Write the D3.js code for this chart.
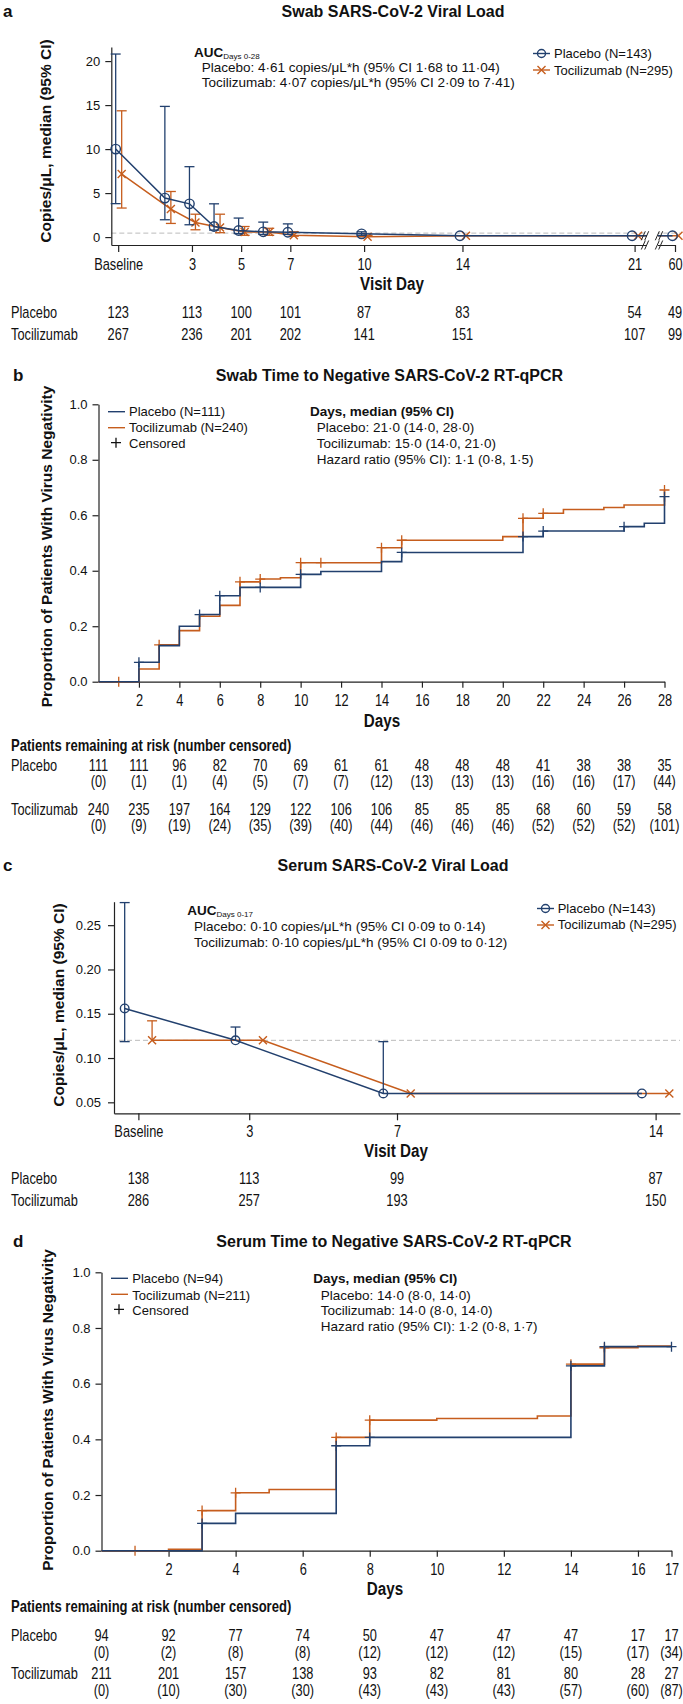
<!DOCTYPE html>
<html>
<head>
<meta charset="utf-8">
<script src="https://cdn.jsdelivr.net/npm/d3@7"></script>
<style>
body { margin: 0; background: #fff; }
svg { display: block; font-family: 'Liberation Sans', Arial, sans-serif; }
.axis path, .axis line { stroke: #222; stroke-width: 1.2px; }
.axis text { fill: #111; }
</style>
</head>
<body>
<script>
// ---------------- data ----------------
// panel a: swab viral load (copies/uL, median + 95% CI)
var swabDays = [0, 2, 3, 4, 5, 6, 7, 10, 14, 21, 60];
var swabPlacebo   = [10.0, 4.43, 3.78, 1.20, 0.75, 0.60, 0.55, 0.37, 0.15, 0.15, 0.15];
var swabPlaceboLo = [3.8, 1.97, 1.40, 0.80, 0.40, 0.30, 0.30, 0.20, 0.15, 0.15, 0.15];
var swabPlaceboHi = [20.8, 14.85, 8.0, 3.78, 2.16, 1.70, 1.50, 0.60, 0.15, 0.15, 0.15];
var swabToci   = [7.16, 3.18, 1.66, 1.10, 0.57, 0.57, 0.20, 0.05, 0.15, 0.15, 0.15];
var swabTociLo = [3.3, 1.55, 0.83, 0.50, 0.20, 0.20, 0.10, 0.05, 0.15, 0.15, 0.15];
var swabTociHi = [14.35, 5.18, 2.60, 2.60, 1.20, 1.00, 0.60, 0.20, 0.15, 0.15, 0.15];
var swabTicks = [0, 3, 5, 7, 10, 14, 21, 60];
var swabTickLabels = ["Baseline", "3", "5", "7", "10", "14", "21", "60"];
var swabNPlacebo = [123, 113, 100, 101, 87, 83, 54, 49];
var swabNToci = [267, 236, 201, 202, 141, 151, 107, 99];

// panel b: swab time to negative (KM steps [day, proportion])
var swabKmPlacebo = [[0,0],[2,0.07],[3,0.13],[4,0.2],[5,0.242],[6,0.31],[7,0.34],[10,0.387],[11,0.397],[14,0.433],[15,0.466],[21,0.523],[22,0.543],[26,0.559],[27,0.571],[28,0.667]];
var swabKmToci = [[0,0],[2,0.046],[3,0.133],[4,0.184],[5,0.236],[6,0.275],[7,0.36],[8,0.37],[9,0.375],[10,0.429],[14,0.483],[15,0.51],[20,0.523],[21,0.589],[22,0.607],[23,0.621],[25,0.628],[26,0.637],[28,0.691]];
var swabCensPlacebo = [2, 5, 6, 8, 10, 15, 21, 22, 26, 28];
var swabCensToci = [1, 3, 7, 8, 10, 11, 14, 15, 21, 22, 28];
var swabRiskDays = [0, 2, 4, 6, 8, 10, 12, 14, 16, 18, 20, 22, 24, 26, 28];
var swabRiskPlacebo = [111, 111, 96, 82, 70, 69, 61, 61, 48, 48, 48, 41, 38, 38, 35];
var swabCensNPlacebo = [0, 1, 1, 4, 5, 7, 7, 12, 13, 13, 13, 16, 16, 17, 44];
var swabRiskToci = [240, 235, 197, 164, 129, 122, 106, 106, 85, 85, 85, 68, 60, 59, 58];
var swabCensNToci = [0, 9, 19, 24, 35, 39, 40, 44, 46, 46, 46, 52, 52, 52, 101];

// panel c: serum viral load
var serumDays = [0, 3, 7, 14];
var serumPlacebo   = [0.156, 0.12, 0.06, 0.06];
var serumPlaceboLo = [0.1185, 0.12, 0.06, 0.06];
var serumPlaceboHi = [0.2755, 0.135, 0.1185, 0.06];
var serumToci   = [0.12, 0.12, 0.06, 0.06];
var serumTociLo = [0.12, 0.12, 0.06, 0.06];
var serumTociHi = [0.142, 0.12, 0.06, 0.06];
var serumTickLabels = ["Baseline", "3", "7", "14"];
var serumNPlacebo = [138, 113, 99, 87];
var serumNToci = [286, 257, 193, 150];

// panel d: serum time to negative
var serumKmPlacebo = [[0,0],[3,0.098],[4,0.134],[7,0.377],[8,0.407],[14,0.664],[15,0.733]];
var serumKmToci = [[0,0],[2,0.005],[3,0.144],[4,0.208],[5,0.22],[7,0.407],[8,0.469],[10,0.475],[13,0.484],[14,0.67],[15,0.729],[16,0.735]];
var serumCensPlacebo = [3, 7, 8, 14, 15, 17];
var serumCensToci = [1, 3, 4, 7, 8, 14, 15];
var serumRiskDays = [0, 2, 4, 6, 8, 10, 12, 14, 16, 17];
var serumRiskPlacebo = [94, 92, 77, 74, 50, 47, 47, 47, 17, 17];
var serumCensNPlacebo = [0, 2, 8, 8, 12, 12, 12, 15, 17, 34];
var serumRiskToci = [211, 201, 157, 138, 93, 82, 81, 80, 28, 27];
var serumCensNToci = [0, 10, 30, 30, 43, 43, 43, 57, 60, 87];

// ---------------- setup ----------------
var BLUE = "#22406e", ORANGE = "#c65d1d";
// no narrow font installed, so squeeze Liberation Sans horizontally
var SQUEEZE = 0.8;

var svg = d3.select("body").append("svg")
  .attr("width", 683)
  .attr("height", 1704);

function txt(x, y, s, size, opt) {
  opt = opt || {};
  var t = svg.append("text")
    .attr("font-size", size)
    .attr("font-weight", opt.bold ? "bold" : null)
    .attr("text-anchor", opt.anchor || "start")
    .attr("fill", "#111")
    .text(s);
  if (opt.narrow) {
    t.attr("transform", "translate(" + x + "," + y + ") scale(" + SQUEEZE + ",1)");
  } else {
    t.attr("x", x).attr("y", y);
  }
  return t;
}

function yTitle(x, y, s) {
  svg.append("text")
    .attr("transform", "translate(" + x + "," + y + ")rotate(-90)")
    .attr("text-anchor", "middle")
    .attr("font-size", 15.5)
    .attr("font-weight", "bold")
    .attr("fill", "#111")
    .text(s);
}

function leftAxis(x, yScale, ticks, fmt, pad) {
  var g = svg.append("g")
    .attr("class", "axis")
    .attr("transform", "translate(" + x + ",0)")
    .call(d3.axisLeft(yScale).tickValues(ticks).tickFormat(fmt).tickSize(6).tickSizeOuter(0).tickPadding(pad));
  g.selectAll("text").attr("font-size", 13).attr("font-family", null);
  return g;
}

function bottomAxis(y, xScale, ticks, fmt, tickLen, labelY) {
  var g = svg.append("g")
    .attr("class", "axis")
    .attr("transform", "translate(0," + y + ")")
    .call(d3.axisBottom(xScale).tickValues(ticks).tickFormat(fmt).tickSize(tickLen).tickSizeOuter(0));
  g.selectAll("text")
    .attr("y", labelY).attr("dy", 0)
    .attr("font-size", 16).attr("font-family", null)
    .attr("transform", "scale(" + SQUEEZE + ",1)");
  return g;
}

// one viral load series: line, error bars, markers
function viralSeries(x, y, days, vals, lo, hi, dodge, color, marker, r) {
  var pts = days.map(function(d, i) {
    return {x: x(d) + dodge, v: vals[i], lo: lo[i], hi: hi[i]};
  });
  svg.append("path").datum(pts)
    .attr("fill", "none").attr("stroke", color).attr("stroke-width", 1.5)
    .attr("d", d3.line().x(function(p) { return p.x; }).y(function(p) { return y(p.v); }));
  pts.forEach(function(p) {
    if (p.hi > p.v || p.lo < p.v) {
      svg.append("line")
        .attr("x1", p.x).attr("x2", p.x).attr("y1", y(p.lo)).attr("y2", y(p.hi))
        .attr("stroke", color).attr("stroke-width", 1.3);
    }
    [p.hi > p.v ? p.hi : null, p.lo < p.v ? p.lo : null].forEach(function(c) {
      if (c === null) return;
      svg.append("line")
        .attr("x1", p.x - 5).attr("x2", p.x + 5).attr("y1", y(c)).attr("y2", y(c))
        .attr("stroke", color).attr("stroke-width", 1.3);
    });
    drawMarker(p.x, y(p.v), color, marker, r);
  });
}

function drawMarker(cx, cy, color, marker, r) {
  if (marker === "circle") {
    svg.append("circle").attr("cx", cx).attr("cy", cy).attr("r", r)
      .attr("fill", "none").attr("stroke", color).attr("stroke-width", 1.4);
  } else {
    svg.append("path")
      .attr("d", "M" + (cx - r) + "," + (cy - r) + "L" + (cx + r) + "," + (cy + r) +
                 "M" + (cx - r) + "," + (cy + r) + "L" + (cx + r) + "," + (cy - r))
      .attr("stroke", color).attr("stroke-width", 1.4);
  }
}

function stepValue(steps, day) {
  var v = 0;
  steps.forEach(function(s) { if (s[0] <= day) v = s[1]; });
  return v;
}

function kmSeries(x, y, steps, endDay, cens, color) {
  var pts = steps.concat([[endDay, steps[steps.length - 1][1]]]);
  svg.append("path").datum(pts)
    .attr("fill", "none").attr("stroke", color).attr("stroke-width", 1.6)
    .attr("d", d3.line().curve(d3.curveStepAfter)
      .x(function(d) { return x(d[0]); })
      .y(function(d) { return y(d[1]); }));
  cens.forEach(function(day) {
    var cx = x(day), cy = y(stepValue(steps, day));
    svg.append("path")
      .attr("d", "M" + cx + "," + (cy - 5) + "V" + (cy + 5) + "M" + (cx - 5) + "," + cy + "H" + (cx + 5))
      .attr("stroke", color).attr("stroke-width", 1.3);
  });
}

function countRow(x, days, vals, y, paren) {
  days.forEach(function(d, i) {
    txt(x(d), y, paren ? "(" + vals[i] + ")" : vals[i], 16, {narrow: true, anchor: "middle"});
  });
}

function kmLegend(x, y) {
  svg.append("line").attr("x1", x).attr("x2", x + 17).attr("y1", y).attr("y2", y).attr("stroke", BLUE).attr("stroke-width", 1.4);
  svg.append("line").attr("x1", x).attr("x2", x + 17).attr("y1", y + 16).attr("y2", y + 16).attr("stroke", ORANGE).attr("stroke-width", 1.4);
  svg.append("path").attr("d", "M" + (x + 8) + "," + (y + 26) + "V" + (y + 36) + "M" + (x + 3) + "," + (y + 31) + "H" + (x + 13))
    .attr("stroke", "#111").attr("stroke-width", 1.3);
}

function viralLegend(x, y) {
  svg.append("line").attr("x1", x).attr("x2", x + 17).attr("y1", y).attr("y2", y).attr("stroke", BLUE).attr("stroke-width", 1.4);
  drawMarker(x + 8.5, y, BLUE, "circle", 4);
  svg.append("line").attr("x1", x).attr("x2", x + 17).attr("y1", y + 16.5).attr("y2", y + 16.5).attr("stroke", ORANGE).attr("stroke-width", 1.4);
  drawMarker(x + 8.5, y + 16.5, ORANGE, "x", 4);
}

// ================= Panel a =================
var xA = d3.scaleLinear().domain([-0.28, 21, 60]).range([111.3, 634.6, 675]);
var yA = d3.scaleLinear().domain([-0.9, 21.6]).range([245, 47]);

txt(3, 17, "a", 17, {bold: true});
txt(393, 16.5, "Swab SARS-CoV-2 Viral Load", 16, {bold: true, anchor: "middle"});
yTitle(50.5, 141, "Copies/\u03bcL, median (95% CI)");

// dashed reference line
svg.append("line")
  .attr("x1", xA.range()[0]).attr("x2", 680)
  .attr("y1", yA(0.45)).attr("y2", yA(0.45))
  .attr("stroke", "#bbb").attr("stroke-dasharray", "5,3").attr("stroke-width", 1);

leftAxis(111.3, yA, [0, 5, 10, 15, 20], d3.format("d"), 5);
bottomAxis(245, xA, swabTicks, function(d, i) { return swabTickLabels[i]; }, 7, 25.5);

viralSeries(xA, yA, swabDays, swabToci, swabTociLo, swabTociHi, 3.5, ORANGE, "x", 4);
viralSeries(xA, yA, swabDays, swabPlacebo, swabPlaceboLo, swabPlaceboHi, -2.5, BLUE, "circle", 4.7);

// axis break between day 21 and day 60
svg.append("rect").attr("x", 647).attr("y", 226).attr("width", 11).attr("height", 24).attr("fill", "#fff");
[645, 659].forEach(function(bx) {
  [yA(0.15), 245].forEach(function(by) {
    [-1.7, 1.7].forEach(function(o) {
      svg.append("line")
        .attr("x1", bx + o - 2).attr("y1", by + 4.5).attr("x2", bx + o + 2).attr("y2", by - 4.5)
        .attr("stroke", "#222").attr("stroke-width", 1);
    });
  });
});

txt(392, 290, "Visit Day", 19, {bold: true, narrow: true, anchor: "middle"});

// AUC annotation
var auc = txt(194, 56.5, "AUC", 13.5, {bold: true});
auc.append("tspan").attr("font-size", 8).attr("font-weight", "normal").attr("dy", 2).text("Days 0-28");
txt(201.7, 71.5, "Placebo: 4\u00b761 copies/\u03bcL*h (95% CI 1\u00b768 to 11\u00b704)", 13.5);
txt(201.7, 87, "Tocilizumab: 4\u00b707 copies/\u03bcL*h (95% CI 2\u00b709 to 7\u00b741)", 13.5);

viralLegend(533, 53.5);
txt(554, 58, "Placebo (N=143)", 13);
txt(554, 74.5, "Tocilizumab (N=295)", 13);

txt(11, 317.5, "Placebo", 16, {narrow: true});
txt(11, 339.5, "Tocilizumab", 16, {narrow: true});
countRow(xA, swabTicks, swabNPlacebo, 317.5);
countRow(xA, swabTicks, swabNToci, 339.5);

// ================= Panel b =================
var xB = d3.scaleLinear().domain([0, 28]).range([98.5, 664.5]);
var yB = d3.scaleLinear().domain([0, 1]).range([681.7, 404.3]);

txt(13, 381, "b", 17, {bold: true});
txt(389.5, 380.5, "Swab Time to Negative SARS-CoV-2 RT-qPCR", 16, {bold: true, anchor: "middle"});
yTitle(52, 546.5, "Proportion of Patients With Virus Negativity");

leftAxis(98.5, yB, [0, 0.2, 0.4, 0.6, 0.8, 1.0], d3.format(".1f"), 5);
bottomAxis(681.7, xB, d3.range(2, 29, 2), d3.format("d"), 6, 24);

kmSeries(xB, yB, swabKmToci, 28, swabCensToci, ORANGE);
kmSeries(xB, yB, swabKmPlacebo, 28, swabCensPlacebo, BLUE);

txt(382, 727, "Days", 19, {bold: true, narrow: true, anchor: "middle"});

kmLegend(108, 411.7);
txt(129, 416.3, "Placebo (N=111)", 13);
txt(129, 432, "Tocilizumab (N=240)", 13);
txt(129, 447.5, "Censored", 13);

txt(310, 416.3, "Days, median (95% CI)", 13.5, {bold: true});
txt(316.7, 432, "Placebo: 21\u00b70 (14\u00b70, 28\u00b70)", 13.5);
txt(316.7, 448, "Tocilizumab: 15\u00b70 (14\u00b70, 21\u00b70)", 13.5);
txt(316.7, 464, "Hazard ratio (95% CI): 1\u00b71 (0\u00b78, 1\u00b75)", 13.5);

txt(11, 750.5, "Patients remaining at risk (number censored)", 16.3, {bold: true, narrow: true});
txt(11, 771, "Placebo", 16, {narrow: true});
txt(11, 814.5, "Tocilizumab", 16, {narrow: true});
countRow(xB, swabRiskDays, swabRiskPlacebo, 771);
countRow(xB, swabRiskDays, swabCensNPlacebo, 787, true);
countRow(xB, swabRiskDays, swabRiskToci, 814.5);
countRow(xB, swabRiskDays, swabCensNToci, 830.5, true);

// ================= Panel c =================
var xC = d3.scaleLinear().domain([-0.66, 14.66]).range([114, 680]);
var yC = d3.scaleLinear().domain([0.0376, 0.2765]).range([1113.3, 901.7]);

txt(3, 870.5, "c", 17, {bold: true});
txt(393, 870.5, "Serum SARS-CoV-2 Viral Load", 16, {bold: true, anchor: "middle"});
yTitle(63.5, 1005, "Copies/\u03bcL, median (95% CI)");

svg.append("line")
  .attr("x1", 119).attr("x2", 680)
  .attr("y1", yC(0.12)).attr("y2", yC(0.12))
  .attr("stroke", "#bbb").attr("stroke-dasharray", "5,3").attr("stroke-width", 1);

leftAxis(114, yC, [0.05, 0.10, 0.15, 0.20, 0.25], d3.format(".2f"), 7);
bottomAxis(1113.3, xC, serumDays, function(d, i) { return serumTickLabels[i]; }, 7, 24);

viralSeries(xC, yC, serumDays, serumToci, serumTociLo, serumTociHi, 13.7, ORANGE, "x", 4);
viralSeries(xC, yC, serumDays, serumPlacebo, serumPlaceboLo, serumPlaceboHi, -13.7, BLUE, "circle", 4.3);

txt(396, 1157, "Visit Day", 19, {bold: true, narrow: true, anchor: "middle"});

var auc2 = txt(187.3, 915, "AUC", 13.5, {bold: true});
auc2.append("tspan").attr("font-size", 8).attr("font-weight", "normal").attr("dy", 2).text("Days 0-17");
txt(194, 930.5, "Placebo: 0\u00b710 copies/\u03bcL*h (95% CI 0\u00b709 to 0\u00b714)", 13.5);
txt(194, 946.5, "Tocilizumab: 0\u00b710 copies/\u03bcL*h (95% CI 0\u00b709 to 0\u00b712)", 13.5);

viralLegend(537, 908.5);
txt(557.7, 913, "Placebo (N=143)", 13);
txt(557.7, 929, "Tocilizumab (N=295)", 13);

txt(11, 1183.5, "Placebo", 16, {narrow: true});
txt(11, 1205.5, "Tocilizumab", 16, {narrow: true});
countRow(xC, serumDays, serumNPlacebo, 1183.5);
countRow(xC, serumDays, serumNToci, 1205.5);

// ================= Panel d =================
var xD = d3.scaleLinear().domain([0, 17]).range([101.5, 671.5]);
var yD = d3.scaleLinear().domain([0, 1]).range([1550.7, 1272.3]);

txt(13, 1247, "d", 17, {bold: true});
txt(394, 1247, "Serum Time to Negative SARS-CoV-2 RT-qPCR", 16, {bold: true, anchor: "middle"});
yTitle(53, 1410, "Proportion of Patients With Virus Negativity");

leftAxis(101.5, yD, [0, 0.2, 0.4, 0.6, 0.8, 1.0], d3.format(".1f"), 5);
bottomAxis(1550.7, xD, [2, 4, 6, 8, 10, 12, 14, 16, 17], d3.format("d"), 6, 24);

kmSeries(xD, yD, serumKmToci, 17, serumCensToci, ORANGE);
kmSeries(xD, yD, serumKmPlacebo, 17, serumCensPlacebo, BLUE);

txt(385, 1595, "Days", 19, {bold: true, narrow: true, anchor: "middle"});

kmLegend(111, 1278.3);
txt(132.3, 1283, "Placebo (N=94)", 13);
txt(132.3, 1299.5, "Tocilizumab (N=211)", 13);
txt(132.3, 1315, "Censored", 13);

txt(313.3, 1283, "Days, median (95% CI)", 13.5, {bold: true});
txt(320.7, 1299.7, "Placebo: 14\u00b70 (8\u00b70, 14\u00b70)", 13.5);
txt(320.7, 1315.4, "Tocilizumab: 14\u00b70 (8\u00b70, 14\u00b70)", 13.5);
txt(320.7, 1331.4, "Hazard ratio (95% CI): 1\u00b72 (0\u00b78, 1\u00b77)", 13.5);

txt(11, 1612, "Patients remaining at risk (number censored)", 16.3, {bold: true, narrow: true});
txt(11, 1641, "Placebo", 16, {narrow: true});
txt(11, 1679, "Tocilizumab", 16, {narrow: true});
countRow(xD, serumRiskDays, serumRiskPlacebo, 1641);
countRow(xD, serumRiskDays, serumCensNPlacebo, 1658, true);
countRow(xD, serumRiskDays, serumRiskToci, 1679);
countRow(xD, serumRiskDays, serumCensNToci, 1695.5, true);
</script>
</body>
</html>
